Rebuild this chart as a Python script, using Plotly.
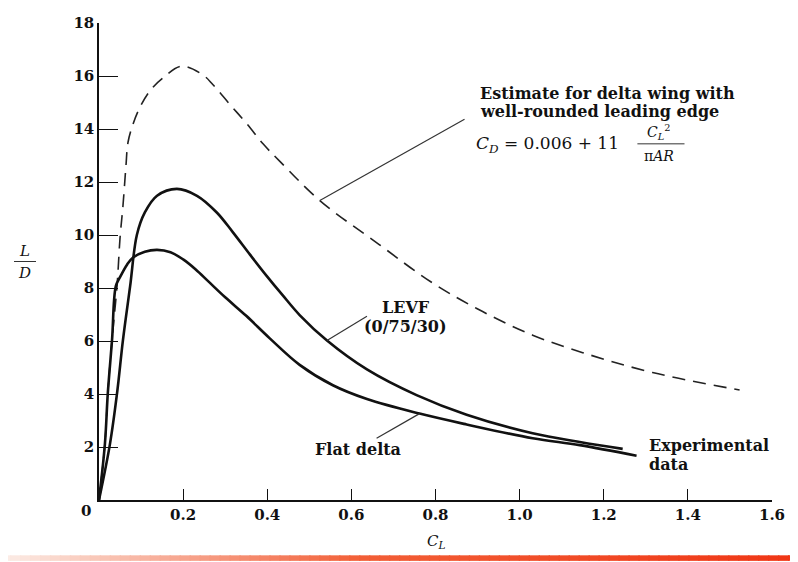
import plotly.graph_objects as go

# ---------------- data ----------------
x_ticks = [0.2, 0.4, 0.6, 0.8, 1.0, 1.2, 1.4, 1.6]
x_tick_text = ["0.2", "0.4", "0.6", "0.8", "1.0", "1.2", "1.4", "1.6"]
y_ticks = [2, 4, 6, 8, 10, 12, 14, 16, 18]
y_tick_text = ["2", "4", "6", "8", "10", "12", "14", "16", "18"]

# Estimate for delta wing with well-rounded leading edge (dashed)
est_cl = [0, 0.014, 0.021, 0.031, 0.043, 0.050, 0.057, 0.064, 0.069, 0.081, 0.097,
          0.121, 0.152, 0.197, 0.247, 0.271, 0.311, 0.352, 0.390, 0.430, 0.525,
          0.667, 0.793, 0.912, 1.031, 1.150, 1.316, 1.523]
est_ld = [0, 2.11, 4.04, 6.04, 8.11, 9.89, 11.11, 12.59, 13.50, 14.19, 14.81,
          15.44, 15.93, 16.37, 16.04, 15.67, 14.93, 14.19, 13.44, 12.78, 11.30,
          9.63, 8.19, 7.11, 6.22, 5.56, 4.81, 4.15]

# LEVF (0/75/30) experimental
levf_cl = [0, 0.026, 0.043, 0.057, 0.074, 0.090, 0.109, 0.138, 0.185, 0.233, 0.280,
           0.318, 0.359, 0.399, 0.437, 0.477, 0.542, 0.637, 0.755, 0.874, 1.031,
           1.143, 1.245]
levf_ld = [0, 2.11, 4.04, 6.04, 8.07, 10.0, 10.85, 11.48, 11.74, 11.48, 10.85,
           10.11, 9.26, 8.45, 7.72, 6.98, 6.02, 4.93, 3.96, 3.22, 2.52,
           2.19, 1.93]

# Flat delta experimental
flat_cl = [0, 0.014, 0.021, 0.031, 0.040, 0.050, 0.067, 0.081, 0.109, 0.138, 0.170,
           0.200, 0.230, 0.260, 0.300, 0.350, 0.406, 0.477, 0.556, 0.637, 0.762,
           0.874, 1.031, 1.143, 1.278]
flat_ld = [0, 2.11, 4.04, 6.04, 8.07, 8.41, 8.89, 9.15, 9.37, 9.44, 9.35,
           9.08, 8.70, 8.25, 7.65, 6.95, 6.10, 5.10, 4.33, 3.81, 3.26,
           2.85, 2.33, 2.07, 1.67]

FONT = "DejaVu Serif"
INK = "#111111"

fig = go.Figure()
fig.add_trace(go.Scatter(x=est_cl, y=est_ld, mode="lines",
                         line=dict(color="#222222", width=1.6, dash="13px,8px",
                                   shape="spline", smoothing=1.0),
                         hoverinfo="skip", showlegend=False))
fig.add_trace(go.Scatter(x=levf_cl, y=levf_ld, mode="lines",
                         line=dict(color=INK, width=2.6, shape="spline", smoothing=1.0),
                         hoverinfo="skip", showlegend=False))
fig.add_trace(go.Scatter(x=flat_cl, y=flat_ld, mode="lines",
                         line=dict(color=INK, width=2.6, shape="spline", smoothing=1.0),
                         hoverinfo="skip", showlegend=False))

tf = dict(family=FONT, size=15, color=INK, weight="bold")

def note(x, y, text, xanchor="center", size=15, xref="x", yref="y", weight="bold"):
    fig.add_annotation(x=x, y=y, text=text, showarrow=False, xanchor=xanchor,
                       yanchor="middle", xref=xref, yref=yref,
                       font=dict(family=FONT, size=size, color=INK, weight=weight))

def leader(x0, y0, x1, y1, xref="x", yref="y", width=1.2):
    fig.add_shape(type="line", x0=x0, y0=y0, x1=x1, y1=y1, xref=xref, yref=yref,
                  line=dict(color="#333333", width=width))

# Estimate label + formula
note(0.900, 15.34, "Estimate for delta wing with", xanchor="left", size=16)
note(0.900, 14.66, "well-rounded leading edge", xanchor="left", size=16)
note(0.891, 13.40, "<i>C<sub>D</sub></i> = 0.006 + 11", xanchor="left", size=17, weight="normal")
note(1.330, 13.90, "<i>C<sub>L</sub></i><sup>2</sup>", size=14, weight="normal")
note(1.332, 12.98, "π<i>AR</i>", size=14, weight="normal")
leader(1.280, 13.44, 1.392, 13.44, width=1)
leader(0.525, 11.30, 0.869, 14.37)

# LEVF label
note(0.729, 7.27, "LEVF", size=16)
note(0.729, 6.55, "(0/75/30)", size=16)
leader(0.542, 6.02, 0.637, 6.93)

# Flat delta label
note(0.615, 1.89, "Flat delta", size=16)
leader(0.660, 2.33, 0.762, 3.26)

# Experimental data label
note(1.302, 2.04, "Experimental", xanchor="left", size=16)
note(1.302, 1.35, "data", xanchor="left", size=16)

# origin label
fig.add_annotation(x=0, y=0, text="0", showarrow=False, xanchor="center", yanchor="middle",
                   xshift=-13, yshift=-11, font=tf)

# y-axis title L/D
note(-0.110, 0.522, "<i>L</i>", xref="paper", yref="paper", weight="normal")
note(-0.110, 0.476, "<i>D</i>", xref="paper", yref="paper", weight="normal")
leader(-0.1263, 0.500, -0.0936, 0.500, xref="paper", yref="paper", width=1)

# x-axis title C_L
note(0.5007, -0.0864, "<i>C<sub>L</sub></i>", xref="paper", yref="paper", weight="normal")

# decorative gradient bar at bottom of the slide
n = 80
c0, c1, c2 = (252, 236, 230), (243, 95, 55), (240, 55, 22)
for i in range(n):
    t = i / (n - 1)
    if t < 0.45:
        u = t / 0.45
        c = [int(c0[k] + (c1[k] - c0[k]) * u) for k in range(3)]
    else:
        u = (t - 0.45) / 0.55
        c = [int(c1[k] + (c2[k] - c1[k]) * u) for k in range(3)]
    fig.add_shape(type="rect", xref="paper", yref="paper",
                  x0=(-99 + 798 * i / n) / 673, x1=(-99 + 798 * (i + 1) / n) / 673 + 0.002,
                  y0=-0.1276, y1=-0.1160, line=dict(width=0),
                  fillcolor="rgb(%d,%d,%d)" % tuple(c), layer="below")

fig.update_xaxes(range=[0, 1.6], tickmode="array", tickvals=x_ticks, ticktext=x_tick_text,
                 ticks="inside", ticklen=11, tickwidth=1.3, tickcolor=INK,
                 showline=True, linecolor=INK, linewidth=1.5, showgrid=False,
                 zeroline=False, tickfont=tf, ticklabeloverflow="allow")
fig.update_yaxes(range=[0, 18], tickmode="array", tickvals=y_ticks, ticktext=y_tick_text,
                 ticks="inside", ticklen=19, tickwidth=1.3, tickcolor=INK,
                 showline=True, linecolor=INK, linewidth=1.5, showgrid=False,
                 zeroline=False, tickfont=tf, ticklabeloverflow="allow")

# page body has an 8px margin, so the figure is sized/offset to land on the reference pixels
fig.update_layout(width=790, height=554, margin=dict(l=91, r=26, t=6, b=62),
                  plot_bgcolor="white", paper_bgcolor="white", showlegend=False)

fig.write_html("out.html")
